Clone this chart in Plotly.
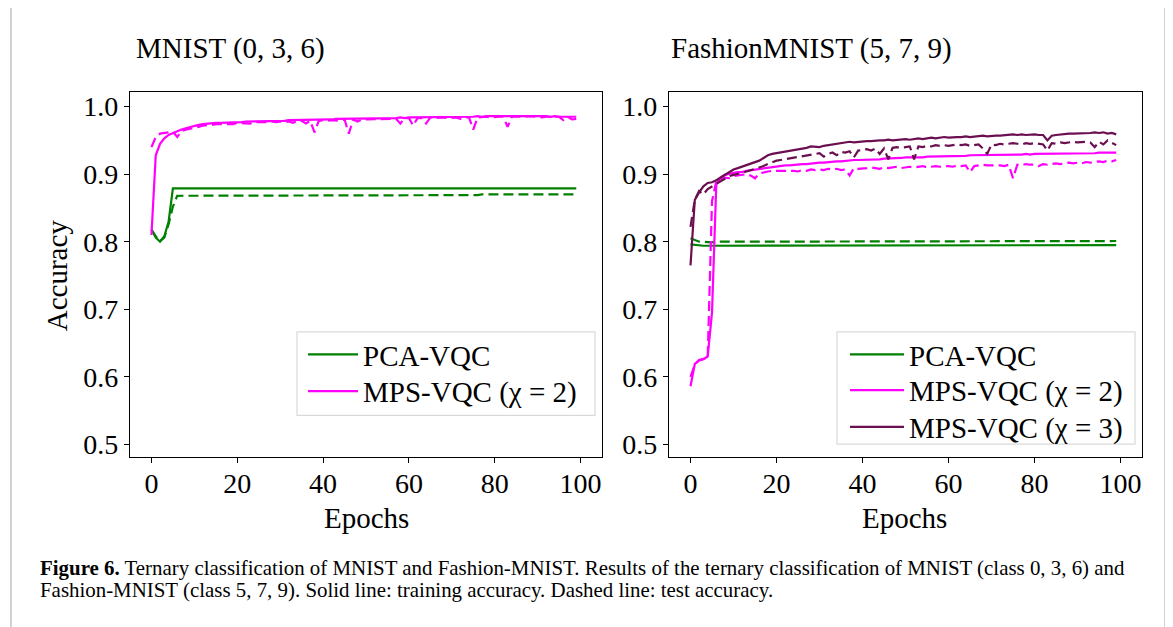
import plotly.graph_objects as go

W, H = 1173, 627
epochs = list(range(100))

# ---------------- MNIST (0, 3, 6) ----------------
mnist_pca_train = [
    0.818, 0.806, 0.800, 0.808, 0.830, 0.879, 0.879, 0.879, 0.879, 0.879,
    0.879, 0.879, 0.879, 0.879, 0.879, 0.879, 0.879, 0.879, 0.879, 0.879,
    0.879, 0.879, 0.879, 0.879, 0.879, 0.879, 0.879, 0.879, 0.879, 0.879,
    0.879, 0.879, 0.879, 0.879, 0.879, 0.879, 0.879, 0.879, 0.879, 0.879,
    0.879, 0.879, 0.879, 0.879, 0.879, 0.879, 0.879, 0.879, 0.879, 0.879,
    0.879, 0.879, 0.879, 0.879, 0.879, 0.879, 0.879, 0.879, 0.879, 0.879,
    0.879, 0.879, 0.879, 0.879, 0.879, 0.879, 0.879, 0.879, 0.879, 0.879,
    0.879, 0.879, 0.879, 0.879, 0.879, 0.879, 0.879, 0.879, 0.879, 0.879,
    0.879, 0.879, 0.879, 0.879, 0.879, 0.879, 0.879, 0.879, 0.879, 0.879,
    0.879, 0.879, 0.879, 0.879, 0.879, 0.879, 0.879, 0.879, 0.879, 0.879]
mnist_pca_test = [
    0.818, 0.808, 0.801, 0.806, 0.826, 0.852, 0.868, 0.868, 0.868, 0.868,
    0.868, 0.868, 0.868, 0.868, 0.868, 0.868, 0.868, 0.868, 0.868, 0.868,
    0.868, 0.868, 0.868, 0.868, 0.868, 0.868, 0.868, 0.868, 0.868, 0.868,
    0.868, 0.868, 0.868, 0.868, 0.868, 0.868, 0.868, 0.868, 0.868, 0.868,
    0.868, 0.868, 0.868, 0.868, 0.868, 0.868, 0.868, 0.868, 0.868, 0.868,
    0.868, 0.868, 0.868, 0.868, 0.868, 0.868, 0.868, 0.869, 0.869, 0.869,
    0.869, 0.869, 0.869, 0.869, 0.869, 0.869, 0.869, 0.869, 0.869, 0.869,
    0.869, 0.869, 0.869, 0.869, 0.869, 0.869, 0.869, 0.870, 0.870, 0.870,
    0.870, 0.870, 0.869, 0.869, 0.869, 0.869, 0.869, 0.869, 0.869, 0.869,
    0.869, 0.869, 0.869, 0.869, 0.869, 0.869, 0.869, 0.869, 0.870, 0.870]
mnist_mps2_train = [
    0.810, 0.928, 0.945, 0.953, 0.958, 0.961, 0.964, 0.966, 0.968, 0.970,
    0.971, 0.973, 0.974, 0.975, 0.975, 0.976, 0.976, 0.976, 0.977, 0.977,
    0.977, 0.977, 0.978, 0.978, 0.978, 0.978, 0.978, 0.979, 0.979, 0.979,
    0.979, 0.979, 0.980, 0.980, 0.980, 0.980, 0.980, 0.981, 0.981, 0.981,
    0.981, 0.981, 0.981, 0.982, 0.982, 0.982, 0.982, 0.982, 0.982, 0.983,
    0.983, 0.983, 0.983, 0.983, 0.983, 0.983, 0.983, 0.983, 0.984, 0.983,
    0.984, 0.984, 0.984, 0.984, 0.984, 0.984, 0.985, 0.984, 0.985, 0.985,
    0.985, 0.985, 0.985, 0.985, 0.985, 0.985, 0.986, 0.985, 0.986, 0.986,
    0.986, 0.986, 0.986, 0.986, 0.986, 0.986, 0.986, 0.987, 0.986, 0.986,
    0.986, 0.986, 0.986, 0.985, 0.986, 0.985, 0.985, 0.986, 0.985, 0.985]
mnist_mps2_test = [
    0.940, 0.955, 0.960, 0.961, 0.962, 0.963, 0.955, 0.964, 0.966, 0.967,
    0.969, 0.970, 0.972, 0.972, 0.973, 0.974, 0.974, 0.975, 0.975, 0.974,
    0.976, 0.976, 0.976, 0.975, 0.977, 0.977, 0.976, 0.977, 0.978, 0.977,
    0.978, 0.977, 0.978, 0.976, 0.979, 0.979, 0.975, 0.979, 0.962, 0.979,
    0.980, 0.979, 0.980, 0.980, 0.979, 0.981, 0.960, 0.981, 0.978, 0.981,
    0.981, 0.982, 0.981, 0.982, 0.982, 0.981, 0.982, 0.982, 0.975, 0.983,
    0.983, 0.972, 0.983, 0.983, 0.975, 0.984, 0.983, 0.984, 0.984, 0.983,
    0.984, 0.984, 0.982, 0.984, 0.984, 0.966, 0.984, 0.985, 0.985, 0.984,
    0.985, 0.985, 0.985, 0.970, 0.985, 0.985, 0.984, 0.985, 0.986, 0.985,
    0.985, 0.984, 0.985, 0.985, 0.984, 0.985, 0.980, 0.985, 0.981, 0.982]

# ---------------- FashionMNIST (5, 7, 9) ----------------
fashion_pca_train = [
    0.796, 0.795, 0.794, 0.794, 0.794, 0.794, 0.794, 0.794, 0.794, 0.794,
    0.794, 0.794, 0.794, 0.794, 0.794, 0.794, 0.794, 0.794, 0.794, 0.794,
    0.794, 0.794, 0.794, 0.794, 0.794, 0.794, 0.794, 0.794, 0.794, 0.794,
    0.794, 0.794, 0.794, 0.794, 0.794, 0.794, 0.794, 0.794, 0.794, 0.794,
    0.794, 0.794, 0.794, 0.794, 0.794, 0.794, 0.794, 0.794, 0.794, 0.794,
    0.794, 0.794, 0.794, 0.794, 0.794, 0.794, 0.794, 0.794, 0.794, 0.794,
    0.794, 0.794, 0.794, 0.794, 0.794, 0.794, 0.794, 0.794, 0.794, 0.794,
    0.794, 0.794, 0.794, 0.794, 0.794, 0.794, 0.794, 0.794, 0.794, 0.794,
    0.794, 0.794, 0.794, 0.794, 0.794, 0.794, 0.794, 0.794, 0.794, 0.794,
    0.794, 0.794, 0.794, 0.795, 0.795, 0.795, 0.795, 0.795, 0.795, 0.795]
fashion_pca_test = [
    0.805, 0.803, 0.800, 0.800, 0.799, 0.799, 0.800, 0.800, 0.800, 0.800,
    0.800, 0.800, 0.800, 0.800, 0.800, 0.800, 0.800, 0.800, 0.800, 0.800,
    0.800, 0.800, 0.800, 0.800, 0.800, 0.800, 0.800, 0.800, 0.800, 0.800,
    0.800, 0.800, 0.800, 0.800, 0.800, 0.800, 0.800, 0.800, 0.800, 0.800,
    0.800, 0.800, 0.800, 0.800, 0.800, 0.800, 0.800, 0.800, 0.800, 0.800,
    0.800, 0.800, 0.800, 0.800, 0.800, 0.800, 0.800, 0.800, 0.800, 0.800,
    0.800, 0.800, 0.800, 0.800, 0.800, 0.800, 0.800, 0.800, 0.800, 0.800,
    0.800, 0.800, 0.800, 0.800, 0.800, 0.800, 0.800, 0.800, 0.800, 0.800,
    0.800, 0.800, 0.800, 0.800, 0.800, 0.800, 0.800, 0.800, 0.800, 0.800,
    0.800, 0.800, 0.800, 0.800, 0.801, 0.801, 0.801, 0.801, 0.801, 0.801]
fashion_mps2_train = [
    0.586, 0.619, 0.624, 0.626, 0.630, 0.695, 0.885, 0.895, 0.899, 0.901,
    0.902, 0.903, 0.903, 0.905, 0.906, 0.907, 0.908, 0.909, 0.910, 0.911,
    0.912, 0.912, 0.913, 0.913, 0.914, 0.914, 0.915, 0.915, 0.916, 0.916,
    0.917, 0.917, 0.918, 0.918, 0.919, 0.919, 0.920, 0.920, 0.921, 0.921,
    0.921, 0.921, 0.922, 0.922, 0.922, 0.923, 0.923, 0.923, 0.924, 0.924,
    0.925, 0.925, 0.924, 0.925, 0.925, 0.926, 0.926, 0.926, 0.926, 0.926,
    0.926, 0.927, 0.927, 0.927, 0.927, 0.928, 0.928, 0.928, 0.928, 0.928,
    0.928, 0.929, 0.929, 0.929, 0.929, 0.929, 0.929, 0.929, 0.930, 0.929,
    0.930, 0.930, 0.930, 0.930, 0.930, 0.930, 0.931, 0.931, 0.931, 0.931,
    0.931, 0.931, 0.931, 0.931, 0.931, 0.932, 0.932, 0.932, 0.932, 0.932]
fashion_mps2_test = [
    0.600, 0.618, 0.625, 0.627, 0.628, 0.860, 0.890, 0.893, 0.895, 0.894,
    0.897, 0.898, 0.899, 0.900, 0.898, 0.894, 0.901, 0.903, 0.904, 0.905,
    0.905, 0.906, 0.905, 0.906, 0.905, 0.904, 0.906, 0.905, 0.907, 0.906,
    0.907, 0.906, 0.908, 0.907, 0.908, 0.906, 0.907, 0.898, 0.909, 0.908,
    0.908, 0.909, 0.910, 0.909, 0.908, 0.910, 0.909, 0.910, 0.911, 0.909,
    0.910, 0.911, 0.910, 0.911, 0.912, 0.910, 0.911, 0.912, 0.911, 0.912,
    0.912, 0.911, 0.913, 0.912, 0.913, 0.903, 0.912, 0.913, 0.914, 0.913,
    0.913, 0.914, 0.913, 0.912, 0.914, 0.894, 0.914, 0.913, 0.915, 0.914,
    0.914, 0.912, 0.915, 0.914, 0.915, 0.916, 0.915, 0.916, 0.917, 0.916,
    0.917, 0.916, 0.918, 0.917, 0.918, 0.919, 0.918, 0.920, 0.919, 0.921]
fashion_mps3_train = [
    0.765, 0.862, 0.873, 0.882, 0.887, 0.888, 0.891, 0.895, 0.899, 0.903,
    0.907, 0.909, 0.911, 0.913, 0.915, 0.917, 0.920, 0.924, 0.928, 0.930,
    0.931, 0.932, 0.933, 0.934, 0.935, 0.936, 0.938, 0.939, 0.941, 0.941,
    0.940, 0.942, 0.943, 0.944, 0.945, 0.946, 0.947, 0.948, 0.947, 0.948,
    0.948, 0.949, 0.949, 0.950, 0.950, 0.950, 0.951, 0.950, 0.951, 0.951,
    0.952, 0.951, 0.952, 0.953, 0.952, 0.953, 0.954, 0.953, 0.954, 0.955,
    0.954, 0.955, 0.955, 0.955, 0.956, 0.955, 0.956, 0.956, 0.957, 0.956,
    0.957, 0.957, 0.957, 0.958, 0.958, 0.959, 0.958, 0.959, 0.958, 0.959,
    0.959, 0.958, 0.958, 0.950, 0.957, 0.958, 0.959, 0.959, 0.960, 0.960,
    0.960, 0.960, 0.961, 0.961, 0.962, 0.961, 0.962, 0.960, 0.961, 0.959]
fashion_mps3_test = [
    0.822, 0.862, 0.875, 0.870, 0.878, 0.882, 0.886, 0.890, 0.894, 0.897,
    0.899, 0.900, 0.902, 0.904, 0.906, 0.907, 0.909, 0.912, 0.915, 0.918,
    0.920, 0.921, 0.922, 0.924, 0.925, 0.926, 0.927, 0.928, 0.929, 0.930,
    0.931, 0.926, 0.930, 0.932, 0.928, 0.933, 0.932, 0.934, 0.925, 0.935,
    0.936, 0.937, 0.935, 0.938, 0.930, 0.938, 0.922, 0.939, 0.940, 0.939,
    0.940, 0.941, 0.922, 0.941, 0.940, 0.942, 0.941, 0.943, 0.942, 0.943,
    0.942, 0.943, 0.944, 0.943, 0.944, 0.942, 0.943, 0.944, 0.938, 0.930,
    0.944, 0.943, 0.945, 0.944, 0.945, 0.946, 0.945, 0.944, 0.946, 0.945,
    0.946, 0.945, 0.944, 0.935, 0.946, 0.945, 0.947, 0.946, 0.947, 0.948,
    0.947, 0.948, 0.948, 0.947, 0.940, 0.948, 0.944, 0.950, 0.946, 0.943]

x_ticks = [0, 20, 40, 60, 80, 100]
y_ticks = [0.5, 0.6, 0.7, 0.8, 0.9, 1.0]
y_tick_text = ["0.5", "0.6", "0.7", "0.8", "0.9", "1.0"]

titles = ["MNIST (0, 3, 6)", "FashionMNIST (5, 7, 9)"]
label_pca = "PCA-VQC"
label_mps2 = "MPS-VQC (χ = 2)"
label_mps3 = "MPS-VQC (χ = 3)"
caption1 = ("<b>Figure 6.</b> Ternary classification of MNIST and Fashion-MNIST. "
            "Results of the ternary classification of MNIST (class 0, 3, 6) and")
caption2 = ("Fashion-MNIST (class 5, 7, 9). Solid line: training accuracy. "
            "Dashed line: test accuracy.")

GREEN = "#008000"
MAGENTA = "#ff00ff"
PURPLE = "#6b0f50"
FONT = "Liberation Serif"
LW = 2.2
DASH = "10px,5px"

OFF = 8  # the page body adds an 8px margin around the figure


def px(x):
    return (x - OFF) / W


def py(y):
    return 1 - (y - OFF) / H


fig = go.Figure()


def add(xa, ya, y, color, dash, name, legend, show):
    fig.add_trace(go.Scatter(
        x=epochs, y=y, mode="lines", name=name, xaxis=xa, yaxis=ya,
        line=dict(color=color, width=LW, dash=dash),
        showlegend=show, legend=legend, hoverinfo="skip"))


# left panel
add("x", "y", mnist_pca_train, GREEN, "solid", label_pca, "legend", True)
add("x", "y", mnist_pca_test, GREEN, DASH, label_pca, "legend", False)
add("x", "y", mnist_mps2_train, MAGENTA, "solid", label_mps2, "legend2", True)
add("x", "y", mnist_mps2_test, MAGENTA, DASH, label_mps2, "legend2", False)
# right panel
add("x2", "y2", fashion_pca_train, GREEN, "solid", label_pca, "legend3", True)
add("x2", "y2", fashion_pca_test, GREEN, DASH, label_pca, "legend3", False)
add("x2", "y2", fashion_mps2_train, MAGENTA, "solid", label_mps2, "legend4", True)
add("x2", "y2", fashion_mps2_test, MAGENTA, DASH, label_mps2, "legend4", False)
add("x2", "y2", fashion_mps3_train, PURPLE, "solid", label_mps3, "legend5", True)
add("x2", "y2", fashion_mps3_test, PURPLE, DASH, label_mps3, "legend5", False)

tickfont = dict(family=FONT, size=28, color="black")
axis_common = dict(
    showline=True, linecolor="black", linewidth=1.3, mirror=True,
    ticks="outside", ticklen=5, tickwidth=1.2, tickcolor="black",
    showgrid=False, zeroline=False, tickfont=tickfont, fixedrange=True)

x_dom_l = [px(130), px(602)]
x_dom_r = [px(669), px(1142)]
y_dom = [py(459), py(92)]

legend_font = dict(family=FONT, size=29, color="black")
ROW_OFF = 25


def legend_at(xpx, row_y, iw):
    return dict(x=px(xpx), y=py(row_y - ROW_OFF), xanchor="left", yanchor="top",
                bgcolor="rgba(0,0,0,0)", borderwidth=0, itemwidth=iw,
                font=legend_font, tracegroupgap=0)


fig.update_layout(
    width=W, height=H, margin=dict(l=0, r=0, t=0, b=0),
    paper_bgcolor="white", plot_bgcolor="white",
    xaxis=dict(domain=x_dom_l, range=[-5, 105], tickvals=x_ticks, anchor="y",
               ticklabelstandoff=-4, **axis_common),
    yaxis=dict(domain=y_dom, range=[0.481, 1.021], tickvals=y_ticks, ticktext=y_tick_text,
               anchor="x", **axis_common),
    xaxis2=dict(domain=x_dom_r, range=[-5, 105], tickvals=x_ticks, anchor="y2",
                ticklabelstandoff=-4, **axis_common),
    yaxis2=dict(domain=y_dom, range=[0.481, 1.021], tickvals=y_ticks, ticktext=y_tick_text,
                anchor="x2", **axis_common),
    legend=legend_at(303, 355, 50),
    legend2=legend_at(303, 392, 50),
    legend3=legend_at(845, 355, 54),
    legend4=legend_at(845, 391, 54),
    legend5=legend_at(845, 428, 54),
    showlegend=True,
)

# legend frames and page frame
fig.add_shape(type="rect", xref="paper", yref="paper",
              x0=px(297), x1=px(595), y0=py(417), y1=py(333),
              line=dict(color="#d9d9d9", width=1.2), fillcolor="white", layer="above")
fig.add_shape(type="rect", xref="paper", yref="paper",
              x0=px(837), x1=px(1135), y0=py(446), y1=py(333),
              line=dict(color="#d9d9d9", width=1.2), fillcolor="white", layer="above")
fig.add_shape(type="rect", xref="paper", yref="paper",
              x0=px(11), x1=px(1165), y0=-0.05, y1=1.05,
              line=dict(color="#c4c4c4", width=1.5), fillcolor="rgba(0,0,0,0)", layer="below")

ann_font = dict(family=FONT, size=29, color="black")
annotations = [
    dict(text=titles[0], x=px(134), y=py(48), xanchor="left", yanchor="middle"),
    dict(text=titles[1], x=px(669), y=py(48), xanchor="left", yanchor="middle"),
    dict(text="Accuracy", x=px(57), y=py(276), xanchor="center", yanchor="middle", textangle=-90),
    dict(text="Epochs", x=px(366), y=py(520), xanchor="center", yanchor="middle"),
    dict(text="Epochs", x=px(905), y=py(520), xanchor="center", yanchor="middle"),
]
for a in annotations:
    fig.add_annotation(xref="paper", yref="paper", showarrow=False, font=ann_font, **a)

cap_font = dict(family=FONT, size=20.9, color="black")
fig.add_annotation(xref="paper", yref="paper", showarrow=False, font=cap_font,
                   text=caption1, x=px(38), y=py(571), xanchor="left", yanchor="middle", align="left")
fig.add_annotation(xref="paper", yref="paper", showarrow=False, font=cap_font,
                   text=caption2, x=px(38), y=py(593), xanchor="left", yanchor="middle", align="left")

fig.write_html("out.html")
